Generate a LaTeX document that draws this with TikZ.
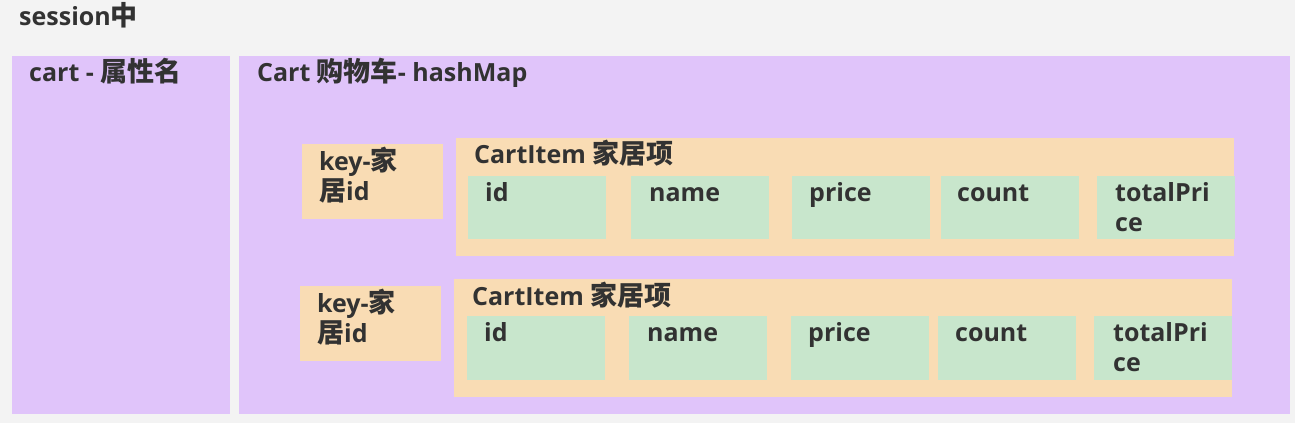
\documentclass[tikz,border=0pt]{standalone}
\usepackage{fontspec}
\setmainfont{Open Sans}
\newfontfamily\cjk{Noto Sans CJK SC}[Scale=1.08]
\usetikzlibrary{positioning,calc}
\definecolor{bggray}{RGB}{243,243,243}
\definecolor{purp}{RGB}{224,196,250}
\definecolor{peach}{RGB}{249,220,180}
\definecolor{mint}{RGB}{200,230,204}
\definecolor{ink}{RGB}{50,50,50}

\begin{document}
\begin{tikzpicture}[x=1pt, y=-1pt,
    every node/.style={font=\bfseries\fontsize{25}{30}\selectfont, text=ink},
    panel/.style={rectangle, fill=purp, inner sep=0pt, anchor=north west, minimum height=358pt},
    keybox/.style={rectangle, fill=peach, inner sep=0pt, anchor=north west, minimum width=141pt, minimum height=75pt},
    itembox/.style={rectangle, fill=peach, inner sep=0pt, anchor=north west, minimum width=778pt, minimum height=118pt},
    field/.style={rectangle, fill=mint, inner sep=0pt, anchor=north west, minimum width=138pt, minimum height=63pt},
    lbl/.style={anchor=base west, inner sep=0pt, align=left}]
            % Background
            \fill[bggray] (0,0) rectangle (1295,423);
            \useasboundingbox (0,0) rectangle (1295,423);
            \node[lbl] (session) at (19,25) {session{\cjk 中}};
            
            % Panels
            \node[panel, minimum width=218pt] (attr) at (12,56) {};
            \node[lbl] (attrname) at ($(attr.north west)+(17,25)$) {cart - {\cjk 属性名}};
            
            \node[panel, minimum width=1051pt] (cart) at (239,56) {};
            \node[lbl] (cartname) at ($(cart.north west)+(18,25)$) {Cart {\cjk 购物车}- hashMap};
            
            % Entry 1 (base of a two-line label is its last line)
            \node[keybox] (key1) at (302,144) {};
            \node[lbl] (keyname1) at ($(key1.north west)+(17,56)$) {key-{\cjk 家}\\{\cjk 居}id};
            
            \node[itembox] (item1) at (456,138) {};
            \node[lbl] (itemname1) at ($(item1.north west)+(18,25)$) {CartItem {\cjk 家居项}};
            
            \node[field] (id1) at (468,176) {};
            \node[lbl] (idname1) at ($(id1.north west)+(17,25)$) {id};
            \node[field] (name1) at (631,176) {};
            \node[lbl] (namename1) at ($(name1.north west)+(18,25)$) {name};
            \node[field] (price1) at (792,176) {};
            \node[lbl] (pricename1) at ($(price1.north west)+(17,25)$) {price};
            \node[field] (count1) at (941,176) {};
            \node[lbl] (countname1) at ($(count1.north west)+(16,25)$) {count};
            \node[field] (total1) at (1097,176) {};
            \node[lbl] (totalname1) at ($(total1.north west)+(18,55)$) {totalPri\\ce};
            
            % Entry 2
            \node[keybox] (key2) at (300,286) {};
            \node[lbl] (keyname2) at ($(key2.north west)+(17,56)$) {key-{\cjk 家}\\{\cjk 居}id};
            
            \node[itembox] (item2) at (454,279) {};
            \node[lbl] (itemname2) at ($(item2.north west)+(18,26)$) {CartItem {\cjk 家居项}};
            
            \node[field, minimum height=64pt] (id2) at (467,316) {};
            \node[lbl] (idname2) at ($(id2.north west)+(17,25)$) {id};
            \node[field, minimum height=64pt] (name2) at (629,316) {};
            \node[lbl] (namename2) at ($(name2.north west)+(18,25)$) {name};
            \node[field, minimum height=64pt] (price2) at (791,316) {};
            \node[lbl] (pricename2) at ($(price2.north west)+(17,25)$) {price};
            \node[field, minimum height=64pt] (count2) at (938,316) {};
            \node[lbl] (countname2) at ($(count2.north west)+(17,25)$) {count};
            \node[field, minimum height=64pt] (total2) at (1094,316) {};
            \node[lbl] (totalname2) at ($(total2.north west)+(19,55)$) {totalPri\\ce};
\end{tikzpicture}
\end{document}
